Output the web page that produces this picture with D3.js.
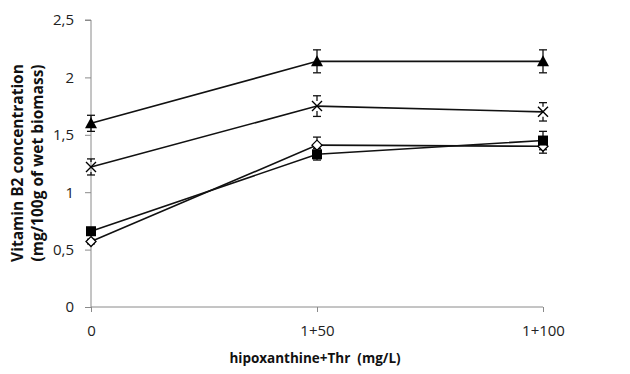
<!DOCTYPE html>
<html>
<head>
  <script src="https://d3js.org/d3.v7.min.js"></script>
  <style>
    body { margin: 0; background: #fff; }
    text { font-family: "Open Sans", sans-serif; }
  </style>
</head>
<body>
<script type="text/javascript">
  var w = 630;
  var h = 374;

  // data
  var doses = ["0", "1+50", "1+100"];
  var triangle = [1.60, 2.14, 2.14];
  var triangleErr = [0.07, 0.10, 0.10];
  var cross = [1.22, 1.75, 1.70];
  var crossErr = [0.07, 0.09, 0.08];
  var square = [0.66, 1.33, 1.45];
  var squareErr = [0.02, 0.05, 0.08];
  var diamond = [0.57, 1.41, 1.40];
  var diamondErr = [0.02, 0.07, 0.06];
  var yTicks = [0, 0.5, 1, 1.5, 2, 2.5];

  var series = [
    { name: "triangle", values: triangle, err: triangleErr },
    { name: "cross", values: cross, err: crossErr },
    { name: "diamond", values: diamond, err: diamondErr },
    { name: "square", values: square, err: squareErr }
  ];

  var svg = d3.select("body").append("svg")
    .attr("width", w)
    .attr("height", h);

  var x = d3.scalePoint()
    .domain(doses)
    .range([91, 543]);

  var y = d3.scaleLinear()
    .domain([0, 2.5])
    .range([307, 20]);

  var fmt = function(d){ return String(d).replace(".", ","); };

  // y axis
  var yAxis = svg.append("g")
    .attr("transform", "translate(" + x(doses[0]) + ",0)")
    .call(d3.axisLeft(y).tickValues(yTicks).tickFormat(fmt).tickSize(6).tickPadding(11));
  yAxis.select(".domain").attr("stroke", "#8a8a8a").attr("d", "M-6," + y(2.5) + "H0V" + y(0));

  // x axis
  var xAxis = svg.append("g")
    .attr("transform", "translate(0," + y(0) + ")")
    .call(d3.axisBottom(x).tickSize(5).tickPadding(13));
  xAxis.select(".domain").attr("stroke", "#8a8a8a").attr("d", "M" + x(doses[0]) + ",0H" + x(doses[2]));

  svg.selectAll(".tick line").attr("stroke", "#8a8a8a");
  svg.selectAll(".tick text")
    .attr("fill", "#222")
    .style("font-size", "15px");

  // axis titles
  svg.append("text")
    .attr("x", 315)
    .attr("y", 363)
    .attr("text-anchor", "middle")
    .style("font-size", "13.5px")
    .style("font-weight", "bold")
    .attr("fill", "#111")
    .attr("xml:space", "preserve")
    .text("hipoxanthine+Thr  (mg/L)");

  var yTitle = svg.append("text")
    .attr("transform", "translate(23,163) rotate(-90)")
    .attr("text-anchor", "middle")
    .style("font-size", "15.5px")
    .style("font-weight", "bold")
    .attr("fill", "#111");
  yTitle.append("tspan").attr("x", 0).attr("dy", 0).text("Vitamin B2 concentration");
  yTitle.append("tspan").attr("x", 0).attr("dy", 20).text("(mg/100g of wet biomass)");

  var line = d3.line()
    .x(function(d, i){ return x(doses[i]); })
    .y(function(d){ return y(d); });

  // error bars
  series.forEach(function(s){
    var g = svg.append("g").attr("stroke", "#111").attr("stroke-width", 1.3);
    s.values.forEach(function(v, i){
      var cx = x(doses[i]), cy = y(v);
      var top = y(v + s.err[i]), bot = y(v - s.err[i]);
      if (s.name == "cross") {
        // the X marker has no fill, so keep the stem outside it
        g.append("line").attr("x1", cx).attr("x2", cx).attr("y1", top).attr("y2", cy - 5);
        g.append("line").attr("x1", cx).attr("x2", cx).attr("y1", cy + 5).attr("y2", bot);
      } else {
        g.append("line").attr("x1", cx).attr("x2", cx).attr("y1", top).attr("y2", bot);
      }
      g.append("line").attr("x1", cx - 4).attr("x2", cx + 4).attr("y1", top).attr("y2", top);
      g.append("line").attr("x1", cx - 4).attr("x2", cx + 4).attr("y1", bot).attr("y2", bot);
    });
  });

  // lines
  series.forEach(function(s){
    svg.append("path")
      .attr("d", line(s.values))
      .attr("fill", "none")
      .attr("stroke", "#111")
      .attr("stroke-width", 1.6);
  });

  // markers
  series.forEach(function(s){
    var g = svg.append("g");
    s.values.forEach(function(v, i){
      var cx = x(doses[i]), cy = y(v);
      if (s.name == "triangle") {
        g.append("path")
          .attr("d", "M" + cx + "," + (cy - 6) + "L" + (cx + 6) + "," + (cy + 5) + "L" + (cx - 6) + "," + (cy + 5) + "Z")
          .attr("fill", "#000");
      } else if (s.name == "square") {
        g.append("rect")
          .attr("x", cx - 5).attr("y", cy - 5)
          .attr("width", 10).attr("height", 10)
          .attr("fill", "#000");
      } else if (s.name == "diamond") {
        g.append("path")
          .attr("d", "M" + cx + "," + (cy - 5) + "L" + (cx + 5) + "," + cy + "L" + cx + "," + (cy + 5) + "L" + (cx - 5) + "," + cy + "Z")
          .attr("fill", "#fff")
          .attr("stroke", "#000")
          .attr("stroke-width", 1.3);
      } else {
        g.append("path")
          .attr("d", "M" + (cx - 5) + "," + (cy - 5) + "L" + (cx + 5) + "," + (cy + 5) + "M" + (cx + 5) + "," + (cy - 5) + "L" + (cx - 5) + "," + (cy + 5))
          .attr("stroke", "#000")
          .attr("stroke-width", 1.4);
      }
    });
  });
</script>
</body>
</html>
